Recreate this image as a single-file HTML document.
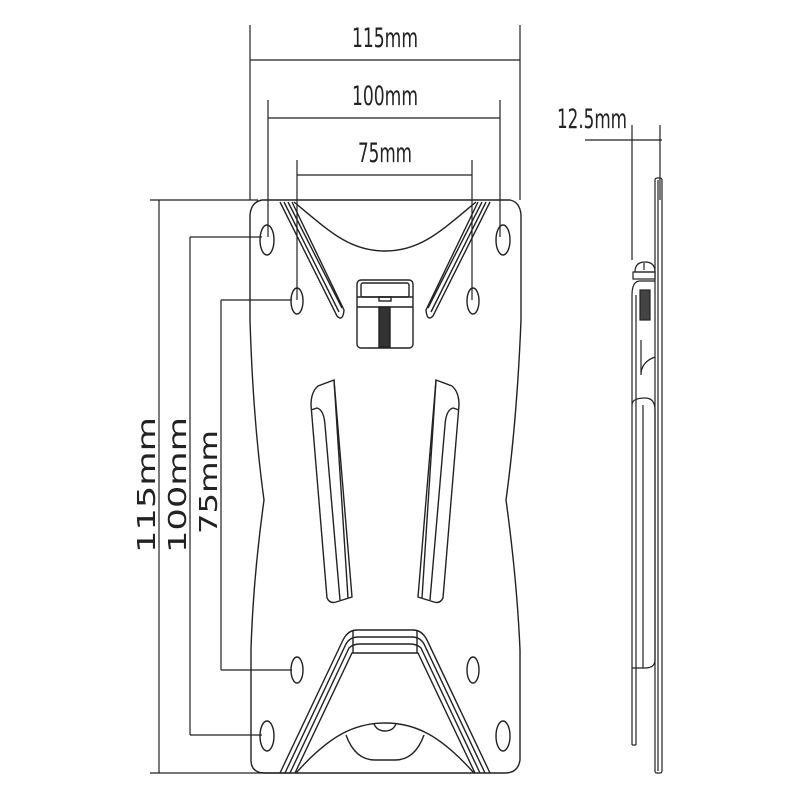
<!DOCTYPE html>
<html><head><meta charset="utf-8"><style>html,body{margin:0;padding:0;background:#fff}svg{display:block}</style></head>
<body>
<svg width="800" height="800" viewBox="0 0 800 800" xmlns="http://www.w3.org/2000/svg" fill="none" stroke="#222" stroke-width="1.4">
<g stroke-width="1.2">
<line x1="250" y1="25" x2="250" y2="200"/><line x1="520" y1="25" x2="520" y2="200"/>
<line x1="250" y1="60" x2="520" y2="60"/>
<line x1="268" y1="100" x2="268" y2="237"/><line x1="500" y1="100" x2="500" y2="237"/>
<line x1="268" y1="118" x2="500" y2="118"/>
<line x1="297" y1="160" x2="297" y2="300"/><line x1="472" y1="160" x2="472" y2="300"/>
<line x1="297" y1="175" x2="472" y2="175"/>
<line x1="159" y1="200" x2="159" y2="773"/><line x1="150" y1="200" x2="258" y2="200"/><line x1="150" y1="773" x2="290" y2="773"/>
<line x1="190" y1="237" x2="190" y2="735"/><line x1="190" y1="237" x2="262" y2="237"/><line x1="190" y1="735" x2="262" y2="735"/>
<line x1="221" y1="300" x2="221" y2="670"/><line x1="221" y1="300" x2="292" y2="300"/><line x1="221" y1="670" x2="292" y2="670"/>
</g>
<g fill="#222" stroke="none" font-family="'DejaVu Sans Condensed','DejaVu Sans',sans-serif">
<text x="385" y="47" font-size="27" text-anchor="middle" textLength="66" lengthAdjust="spacingAndGlyphs">115mm</text>
<text x="385" y="105" font-size="27" text-anchor="middle" textLength="66" lengthAdjust="spacingAndGlyphs">100mm</text>
<text x="385" y="162" font-size="27" text-anchor="middle" textLength="54" lengthAdjust="spacingAndGlyphs">75mm</text>
<text x="592" y="128" font-size="27" text-anchor="middle" textLength="70" lengthAdjust="spacingAndGlyphs">12.5mm</text>
<text transform="translate(155,485) rotate(-90)" font-size="25" text-anchor="middle" textLength="136" lengthAdjust="spacingAndGlyphs">115mm</text>
<text transform="translate(186,485) rotate(-90)" font-size="25" text-anchor="middle" textLength="136" lengthAdjust="spacingAndGlyphs">100mm</text>
<text transform="translate(217,482) rotate(-90)" font-size="25" text-anchor="middle" textLength="104" lengthAdjust="spacingAndGlyphs">75mm</text>
</g>
<path d="M262 200 L510 200 Q520 202 521 215 L521 320 Q517 420 506 500 Q517 580 520 650 L520 760 Q518 773 505 773 L265 773 Q251 773 251 760 L251 650 Q253 580 264 500 Q253 420 250 320 L250 215 Q251 202 262 200 Z"/>
<path d="M294 202 C330 232 350 251 385 251 C420 251 440 232 476 202"/>
<path d="M280 202 L337 316 Q343 322 344 310 L292 202"/>
<path d="M284 202 L339 312"/><path d="M288 202 L342 308"/>
<path d="M490 202 L433 316 Q427 322 426 310 L478 202"/>
<path d="M486 202 L431 312"/><path d="M482 202 L428 308"/>
<ellipse cx="267" cy="240" rx="7" ry="15"/><ellipse cx="503" cy="240" rx="7" ry="15"/>
<ellipse cx="297" cy="301" rx="6" ry="13"/><ellipse cx="473" cy="301" rx="6" ry="13"/>
<ellipse cx="297" cy="670" rx="6" ry="13"/><ellipse cx="473" cy="670" rx="6" ry="13"/>
<ellipse cx="267" cy="736" rx="7" ry="15"/><ellipse cx="503" cy="736" rx="7" ry="15"/>
<rect x="357" y="280" width="56" height="68" rx="4"/>
<rect x="361" y="283" width="48" height="14" rx="2"/>
<line x1="357" y1="297" x2="413" y2="297"/><line x1="357" y1="307" x2="413" y2="307"/>
<rect x="379" y="297" width="12" height="4"/>
<rect x="379" y="307" width="11" height="40" fill="#333"/>
<path d="M334 380 L318 386 Q311 392 311 405 L327 598 Q330 604 336 602 L352 597 Z"/>
<path d="M311 410 L317 408 Q324 410 325 425 L340 600"/><path d="M334 380 L348 598"/>
<path d="M436 380 L452 386 Q459 392 459 405 L443 598 Q440 604 434 602 L418 597 Z"/>
<path d="M459 410 L453 408 Q446 410 445 425 L430 600"/><path d="M436 380 L422 598"/>
<path d="M280 773 L343 640 Q348 630 357 630 L413 630 Q422 630 427 640 L490 773"/>
<path d="M285 773 L346 644 Q350 637 358 637 L412 637 Q420 637 424 644 L485 773"/>
<path d="M290 773 L349 648 Q353 644 360 644 L410 644 Q417 644 421 648 L480 773"/>
<path d="M295 773 L352 653 L418 653 L475 773"/>
<line x1="353" y1="630" x2="353" y2="653"/><line x1="417" y1="630" x2="417" y2="653"/>
<path d="M296 773 C330 735 355 723 385 723 C415 723 440 735 474 773"/>
<path d="M346 735 Q355 760 375 760 L395 760 Q415 760 424 735"/>
<path d="M374 724 Q377 731 385 731 Q393 731 396 724"/>
<g stroke-width="1.2">
<line x1="585" y1="140" x2="662" y2="140"/>
<line x1="632" y1="125" x2="632" y2="260"/><line x1="660" y1="125" x2="660" y2="200"/>
<rect x="655" y="178" width="7" height="595" rx="2"/>
<line x1="658" y1="180" x2="658" y2="771"/>
<path d="M635 272 Q635 262 645 262 Q655 262 655 272 Z"/>
<line x1="644" y1="263" x2="644" y2="270"/>
<rect x="633" y="272" width="22" height="7"/>
<path d="M632 295 Q632 281 640 281 L655 281"/>
<line x1="632" y1="295" x2="632" y2="745"/><line x1="636" y1="295" x2="636" y2="745"/>
<rect x="640" y="290" width="10" height="30" fill="#444"/>
<path d="M641 340 L641 375 Q641 362 655 357"/>
<path d="M632 405 Q632 398 645 398 Q655 398 655 410 L655 660 Q655 668 645 668 L632 668"/>
<line x1="643" y1="405" x2="643" y2="668"/>
<line x1="632" y1="745" x2="636" y2="745"/>
</g>
</svg>
</body></html>
